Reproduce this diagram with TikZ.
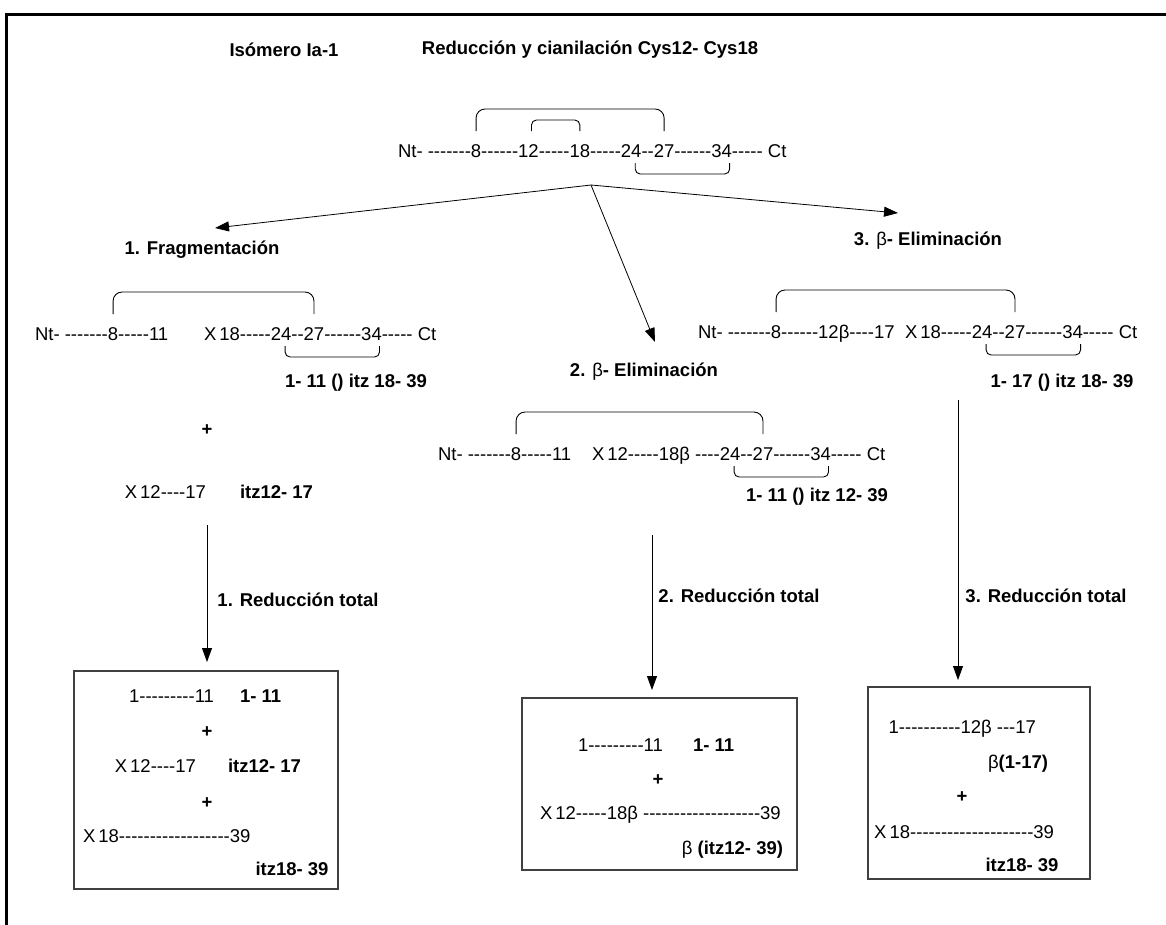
\documentclass[tikz,border=0pt]{standalone}
\usepackage{fontspec}
\newfontfamily\af{Liberation Sans}
\usetikzlibrary{arrows.meta}
\begin{document}
\begin{tikzpicture}[x=1pt,y=-1pt,
  every node/.style={font=\af\fontsize{18.5}{22}\selectfont, inner sep=0pt, outer sep=0pt},
  seq/.style={anchor=base west},
  lbl/.style={font=\af\fontsize{18.5}{22}\selectfont\bfseries},
  brk/.style={line width=0.9pt, rounded corners=9pt},
  sbrk/.style={line width=0.9pt, rounded corners=5pt},
  arr/.style={line width=0.8pt, -{Triangle[length=14pt,width=10pt]}},
  box/.style={draw=black!75, line width=1.3pt},
]
\useasboundingbox (0,0) rectangle (1166,924);
\clip (0,0) rectangle (1166,924);

% frame
\draw[line width=3pt] (6,940) -- (6,14.5) -- (1180,14.5);

% titles
\node[lbl] (t1) at (284,50) {Isómero Ia-1};
\node[lbl] (t2) at (590,50) {Reducción y cianilación Cys12- Cys18};

% native chain
\node[seq] (a0) at (398,157) {Nt- -------};
\node[seq] (a8) at (a0.base east) {8};
\node[seq] (a1) at (a8.base east) {------};
\node[seq] (a12) at (a1.base east) {12};
\node[seq] (a2) at (a12.base east) {-----};
\node[seq] (a18) at (a2.base east) {18};
\node[seq] (a3) at (a18.base east) {-----};
\node[seq] (a24) at (a3.base east) {24};
\node[seq] (a4) at (a24.base east) {--};
\node[seq] (a27) at (a4.base east) {27};
\node[seq] (a5) at (a27.base east) {------};
\node[seq] (a34) at (a5.base east) {34};
\node[seq] (a6) at (a34.base east) {----- Ct};
\draw[brk] ([yshift=26pt]a8.base) -- ([yshift=48pt]a8.base) -- ([yshift=48pt]a27.base) -- ([yshift=26pt]a27.base);
\draw[sbrk] ([xshift=3pt,yshift=26pt]a12.base) -- ([xshift=3pt,yshift=37pt]a12.base) -- ([yshift=37pt]a18.base) -- ([yshift=26pt]a18.base);
\draw[sbrk] ([xshift=4pt,yshift=-6pt]a24.base) -- ([xshift=4pt,yshift=-17pt]a24.base) -- ([xshift=8pt,yshift=-17pt]a34.base) -- ([xshift=8pt,yshift=-6pt]a34.base);

% three pathways
\coordinate (fork) at (591,185);
\coordinate (e1) at (215,228);
\coordinate (e2) at (655,342);
\coordinate (e3) at (898,213);
\draw[arr] (fork) -- (e1);
\draw[arr] (fork) -- (e2);
\draw[arr] (fork) -- (e3);

\node[lbl] (l1) at (202,250) {1. Fragmentación};
\node[lbl] (l2) at (644,372) {2. {\mdseries β}- Eliminación};
\node[lbl] (l3) at (928,241) {3. {\mdseries β}- Eliminación};

% pathway 1
\node[seq] (b0) at (35,340) {Nt- -------};
\node[seq] (b8) at (b0.base east) {8};
\node[seq] (b1) at (b8.base east) {-----11};
\node[seq] (bx) at (204,340) {X\,18-----};
\node[seq] (b24) at (bx.base east) {24};
\node[seq] (b2) at (b24.base east) {--};
\node[seq] (b27) at (b2.base east) {27};
\node[seq] (b3) at (b27.base east) {------};
\node[seq] (b34) at (b3.base east) {34};
\node[seq] (b4) at (b34.base east) {----- Ct};
\draw[brk] ([yshift=26pt]b8.base) -- ([yshift=48pt]b8.base) -- ([yshift=48pt]b27.base) -- ([yshift=26pt]b27.base);
\draw[sbrk] ([xshift=4pt,yshift=-6pt]b24.base) -- ([xshift=4pt,yshift=-17pt]b24.base) -- ([xshift=8pt,yshift=-17pt]b34.base) -- ([xshift=8pt,yshift=-6pt]b34.base);
\node[lbl] (bp) at (356,383) {1- 11 () itz 18- 39};
\node[lbl] (bplus) at (207,430) {+};
\node[anchor=base east] (bf) at (206,498) {X\,12----17};
\node[lbl,anchor=base west] (bfl) at (240,498) {itz12- 17};

% pathway 2
\node[seq] (c0) at (438,460) {Nt- -------};
\node[seq] (c8) at (c0.base east) {8};
\node[seq] (c1) at (c8.base east) {-----11};
\node[seq] (cx) at (592,460) {X\,12-----18β ----};
\node[seq] (c24) at (cx.base east) {24};
\node[seq] (c2) at (c24.base east) {--};
\node[seq] (c27) at (c2.base east) {27};
\node[seq] (c3) at (c27.base east) {------};
\node[seq] (c34) at (c3.base east) {34};
\node[seq] (c4) at (c34.base east) {----- Ct};
\draw[brk] ([yshift=26pt]c8.base) -- ([yshift=48pt]c8.base) -- ([yshift=48pt]c27.base) -- ([yshift=26pt]c27.base);
\draw[sbrk] ([xshift=4pt,yshift=-6pt]c24.base) -- ([xshift=4pt,yshift=-17pt]c24.base) -- ([xshift=8pt,yshift=-17pt]c34.base) -- ([xshift=8pt,yshift=-6pt]c34.base);
\node[lbl] (cp) at (817,497) {1- 11 () itz 12- 39};

% pathway 3
\node[seq] (d0) at (698,338) {Nt- -------};
\node[seq] (d8) at (d0.base east) {8};
\node[seq] (d1) at (d8.base east) {------12β----17};
\node[seq] (dx) at (905,338) {X\,18-----};
\node[seq] (d24) at (dx.base east) {24};
\node[seq] (d2) at (d24.base east) {--};
\node[seq] (d27) at (d2.base east) {27};
\node[seq] (d3) at (d27.base east) {------};
\node[seq] (d34) at (d3.base east) {34};
\node[seq] (d4) at (d34.base east) {----- Ct};
\draw[brk] ([yshift=26pt]d8.base) -- ([yshift=48pt]d8.base) -- ([yshift=48pt]d27.base) -- ([yshift=26pt]d27.base);
\draw[sbrk] ([xshift=4pt,yshift=-6pt]d24.base) -- ([xshift=4pt,yshift=-17pt]d24.base) -- ([xshift=8pt,yshift=-17pt]d34.base) -- ([xshift=8pt,yshift=-6pt]d34.base);
\node[lbl] (dp) at (1062,383) {1- 17 () itz 18- 39};

% total reduction steps
\coordinate (v1s) at (207,525); \coordinate (v1e) at (207,662);
\coordinate (v2s) at (652,535); \coordinate (v2e) at (652,690);
\coordinate (v3s) at (958,400); \coordinate (v3e) at (958,680);
\draw[arr] (v1s) -- (v1e);
\draw[arr] (v2s) -- (v2e);
\draw[arr] (v3s) -- (v3e);
\node[lbl] (r1) at (298,600) {1. Reducción total};
\node[lbl] (r2) at (739,596) {2. Reducción total};
\node[lbl] (r3) at (1046,596) {3. Reducción total};

% product boxes
\draw[box] (74,671) rectangle (338,889);
\node[anchor=base east] (m1a) at (214,702) {1---------11};
\node[lbl,anchor=base west] (m1b) at (240,702) {1- 11};
\node[lbl] (m1p) at (207,732) {+};
\node[anchor=base east] (m1c) at (196,772) {X\,12----17};
\node[lbl,anchor=base west] (m1d) at (228,772) {itz12- 17};
\node[lbl] (m1q) at (207,803) {+};
\node[anchor=base west] (m1e) at (83,842) {X\,18------------------39};
\node[lbl] (m1f) at (292,869) {itz18- 39};

\draw[box] (522,698) rectangle (797,870);
\node[anchor=base west] (m2a) at (578,751) {1---------11};
\node[lbl,anchor=base west] (m2b) at (693,751) {1- 11};
\node[lbl] (m2p) at (658,780) {+};
\node[anchor=base west] (m2c) at (540,819) {X\,12-----18β -------------------39};
\node[anchor=base east] (m2d) at (783,854) {β \textbf{(itz12- 39)}};

\draw[box] (868,687) rectangle (1090,879);
\node[anchor=base east] (m3a) at (1036,733) {1----------12β ---17};
\node[anchor=base west] (m3b) at (988,768) {β\textbf{(1-17)}};
\node[lbl] (m3p) at (962,797) {+};
\node[anchor=base east] (m3c) at (1054,838) {X\,18--------------------39};
\node[lbl] (m3d) at (1022,865) {itz18- 39};
\end{tikzpicture}
\end{document}
